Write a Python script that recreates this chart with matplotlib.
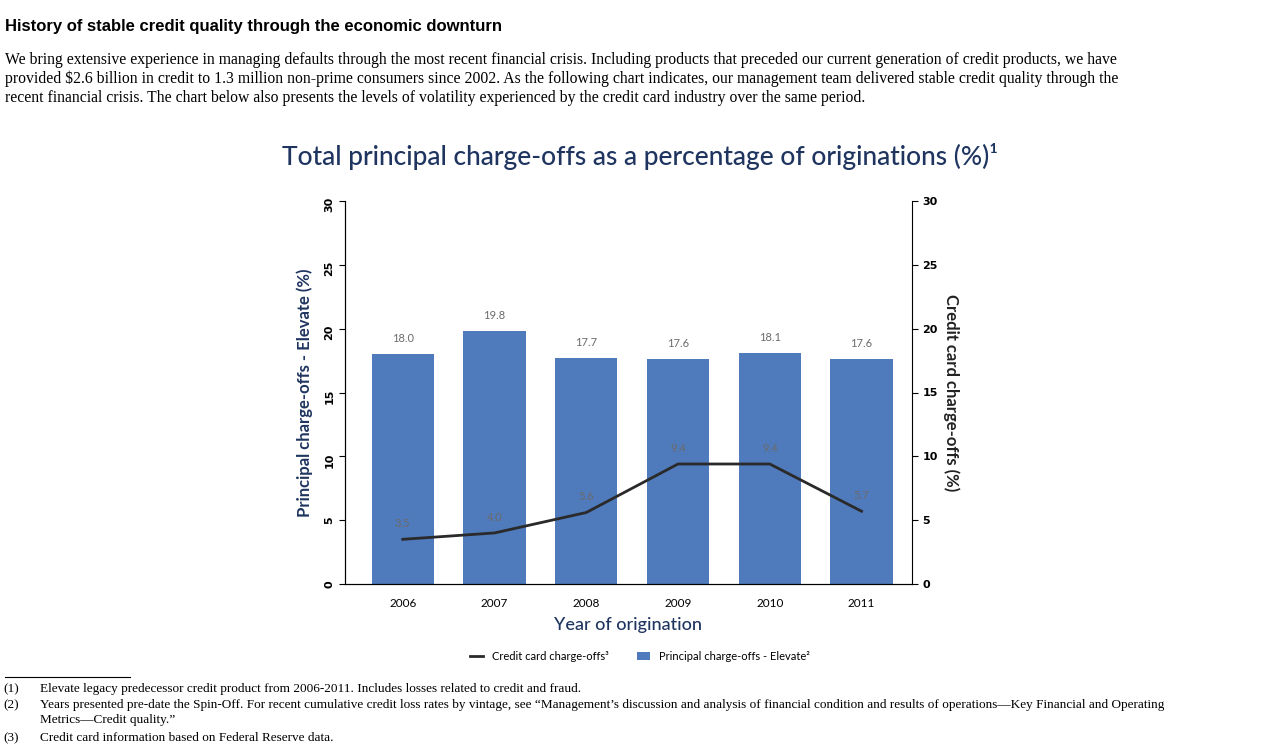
import matplotlib.pyplot as plt

years = ["2006", "2007", "2008", "2009", "2010", "2011"]
elevate = [18.0, 19.8, 17.7, 17.6, 18.1, 17.6]
credit_card = [3.5, 4.0, 5.6, 9.4, 9.4, 5.7]

navy = "#1f3560"
bar_color = "#4f7abb"
grey = "#6b6b6b"

fig = plt.figure(figsize=(12.8, 7.52), dpi=100)

# document text
fig.text(5/1280, 1-26/752, "History of stable credit quality through the economic downturn",
         fontsize=12, fontweight="bold", family="Liberation Sans", va="center")
para = ["We bring extensive experience in managing defaults through the most recent financial crisis. Including products that preceded our current generation of credit products, we have",
        "provided $2.6 billion in credit to 1.3 million non-prime consumers since 2002. As the following chart indicates, our management team delivered stable credit quality through the",
        "recent financial crisis. The chart below also presents the levels of volatility experienced by the credit card industry over the same period."]
for i, line in enumerate(para):
    fig.text(5/1280, 1-(60+19*i)/752, line, fontsize=11.3, family="Liberation Serif", va="center")

fig.text(640/1280, 1-157/752, "Total principal charge-offs as a percentage of originations (%)\u00b9",
         fontsize=19, color=navy, family="Lato", fontweight="medium", ha="center", va="center")

ax = fig.add_axes([345/1280, 1-584/752, 567/1280, 383/752])
x = list(range(len(years)))
ax.bar(x, elevate, width=0.68, color=bar_color, label="Principal charge-offs - Elevate\u00b2")
ax.plot(x, credit_card, color="#2a2a2a", lw=2, label="Credit card charge-offs\u00b3")
for xi, v in zip(x, elevate):
    ax.text(xi, v + 0.8, f"{v:.1f}", ha="center", va="bottom", fontsize=8, color=grey, family="Lato")
for xi, v in zip(x, credit_card):
    ax.text(xi, v + 0.8, f"{v:.1f}", ha="center", va="bottom", fontsize=8, color=grey, family="Lato")

ax.set_xlim(-0.63, 5.55)
ax.set_ylim(0, 30)
ax.set_xticks(x)
ax.set_xticklabels(years, fontsize=8.5, family="Lato")
ax.tick_params(axis="x", length=0, pad=10)
ax.set_yticks(range(0, 31, 5))
ax.tick_params(axis="y", labelsize=8, labelrotation=90, length=4)
for lab in ax.get_yticklabels():
    lab.set_fontweight("bold")
ax.spines["top"].set_visible(False)
ax.spines["right"].set_visible(False)
ax.set_ylabel("Principal charge-offs - Elevate (%)", fontsize=12, color=navy, family="Lato",
              fontweight="bold", labelpad=8)
ax.set_xlabel("Year of origination", fontsize=13, color=navy, family="Lato", fontweight="medium",
              labelpad=6)

ax2 = ax.twinx()
ax2.set_ylim(0, 30)
ax2.set_yticks(range(0, 31, 5))
ax2.tick_params(axis="y", labelsize=8, length=4)
for lab in ax2.get_yticklabels():
    lab.set_fontweight("bold")
ax2.spines["top"].set_visible(False)
ax2.set_ylabel("Credit card charge-offs (%)", fontsize=12, color="#222222", family="Lato",
               fontweight="bold", rotation=-90, labelpad=16)

h1, l1 = ax.get_legend_handles_labels()
fig.legend(h1, l1, loc="center", bbox_to_anchor=(640/1280, 1-656/752), ncol=2, frameon=False,
           prop={"family": "Lato", "size": 8}, handlelength=1.2, columnspacing=2.5)

# footnotes
fig.add_artist(plt.Line2D([5/1280, 130/1280], [1-677/752, 1-677/752], color="black", lw=0.8))
notes = [("(1)", "Elevate legacy predecessor credit product from 2006-2011. Includes losses related to credit and fraud.", 689),
         ("(2)", "Years presented pre-date the Spin-Off. For recent cumulative credit loss rates by vintage, see \u201cManagement\u2019s discussion and analysis of financial condition and results of operations\u2014Key Financial and Operating", 705),
         ("", "Metrics\u2014Credit quality.\u201d", 720),
         ("(3)", "Credit card information based on Federal Reserve data.", 738)]
for num, txt, y in notes:
    fig.text(3/1280, 1-y/752, num, fontsize=9.5, family="Liberation Serif", va="center")
    fig.text(40/1280, 1-y/752, txt, fontsize=9.5, family="Liberation Serif", va="center")

fig.savefig("out.png", dpi=100)
